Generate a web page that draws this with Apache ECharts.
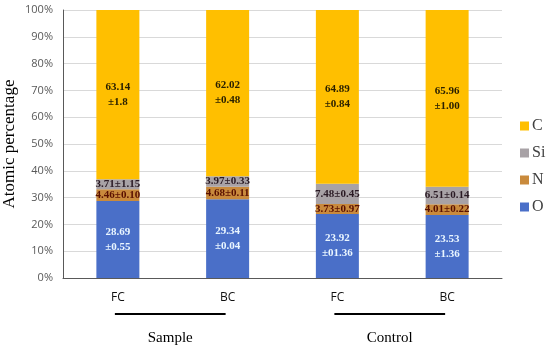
<!DOCTYPE html>
<html>
<head>
<meta charset="utf-8">
<script src="https://cdn.jsdelivr.net/npm/echarts@6/dist/echarts.min.js"></script>
<style>html,body{margin:0;padding:0;background:#fff}#c{width:550px;height:351px}</style>
</head>
<body>
<div id="c"></div>
<script>
const categories = ['FC', 'BC', 'FC', 'BC'];
const groups = [{ name: 'Sample', from: 0, to: 1 }, { name: 'Control', from: 2, to: 3 }];
const oValues = [28.69, 29.34, 23.92, 23.53];
const oErr = ['±0.55', '±0.04', '±01.36', '±1.36'];
const nValues = [4.46, 4.68, 3.73, 4.01];
const nErr = ['±0.10', '±0.11', '±0.97', '±0.22'];
const siValues = [3.71, 3.97, 7.48, 6.51];
const siErr = ['±1.15', '±0.33', '±0.45', '±0.14'];
const cValues = [63.14, 62.02, 64.89, 65.96];
const cErr = ['±1.8', '±0.48', '±0.84', '±1.00'];
const yTicks = [0, 10, 20, 30, 40, 50, 60, 70, 80, 90, 100];

const serif = '"Liberation Serif", "DejaVu Serif", serif';
const sans = '"Open Sans", "Liberation Sans", sans-serif';
const chart = echarts.init(document.getElementById('c'));

function mk(name, vals, errs, color, twoLine, txtColor) {
  return {
    name: name, type: 'bar', stack: 'total', barWidth: 43,
    data: vals,
    itemStyle: { color: color },
    label: {
      show: true, position: 'inside',
      fontFamily: serif, fontWeight: 'bold', fontSize: 11, lineHeight: 15,
      color: txtColor,
      formatter: p => twoLine ? (vals[p.dataIndex].toFixed(2) + '\n' + errs[p.dataIndex])
                              : (vals[p.dataIndex].toFixed(2) + errs[p.dataIndex])
    }
  };
}

chart.setOption({
  animation: false,
  grid: { left: 63, right: 48, top: 10, bottom: 73, containLabel: false, outerBoundsMode: 'none' },
  legend: {
    data: ['C', 'Si', 'N', 'O'], orient: 'vertical', left: 515, top: 113,
    itemWidth: 9, itemHeight: 9, itemGap: 11, icon: 'rect',
    textStyle: { fontFamily: serif, fontSize: 16, color: '#404040', padding: [0, 0, 0, -2] }
  },
  xAxis: {
    type: 'category', data: categories,
    axisLine: { lineStyle: { color: '#595959', width: 1 } },
    axisTick: { show: false },
    axisLabel: { color: '#111', fontFamily: sans, fontSize: 12, margin: 14 }
  },
  yAxis: {
    type: 'value', min: yTicks[0], max: yTicks[yTicks.length - 1], interval: yTicks[1] - yTicks[0],
    name: 'Atomic percentage', nameLocation: 'middle', nameGap: 45, nameMoveOverlap: false,
    nameTextStyle: { fontFamily: serif, fontSize: 17, color: '#000' },
    axisLine: { show: true, lineStyle: { color: '#595959' } },
    axisTick: { show: false },
    axisLabel: { formatter: '{value}%', color: '#595959', fontFamily: sans, fontSize: 11, margin: 10 },
    splitLine: { lineStyle: { color: '#d9d9d9' } }
  },
  series: [
    mk('O', oValues, oErr, '#4a6fc8', true, '#eaf6ff'),
    mk('N', nValues, nErr, '#c98a3c', false, '#5a1000'),
    mk('Si', siValues, siErr, '#a8a2a6', false, '#2a1a24'),
    mk('C', cValues, cErr, '#ffbf00', true, '#2a2000')
  ]
});

const gfx = [];
groups.forEach(g => {
  const x1 = chart.convertToPixel({ xAxisIndex: 0 }, g.from) - 3;
  const x2 = chart.convertToPixel({ xAxisIndex: 0 }, g.to) - 2;
  const y0 = chart.convertToPixel({ yAxisIndex: 0 }, 0);
  gfx.push({ type: 'line', shape: { x1: x1, y1: y0 + 36, x2: x2, y2: y0 + 36 }, style: { stroke: '#000', lineWidth: 2 } });
  gfx.push({ type: 'text', x: (x1 + x2) / 2, y: y0 + 60, style: { text: g.name, font: '15px ' + serif, fill: '#000', textAlign: 'center', textVerticalAlign: 'middle' } });
});
chart.setOption({ graphic: gfx });
</script>
</body>
</html>
